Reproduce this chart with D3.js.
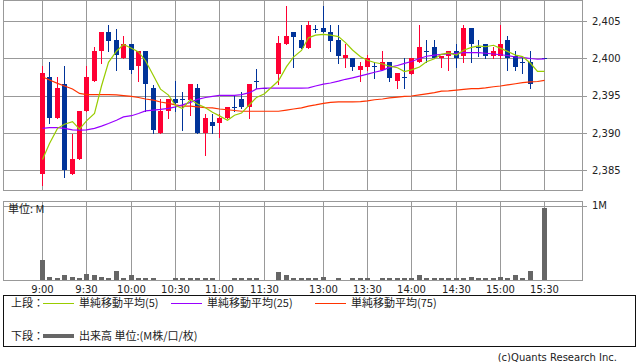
<!DOCTYPE html>
<html>
<head>
<meta charset="utf-8">
<script src="https://cdn.jsdelivr.net/npm/d3@7"></script>
<style>
  body { margin: 0; background: #fff; }
  text { font-family: "DejaVu Sans", sans-serif; fill: #222; }
  .jp { font-family: "Noto Sans CJK JP", sans-serif; }
</style>
</head>
<body>
<div id="chart"></div>
<script>
// 5-minute bars, "" = lunch gap slot
const times = [
  "9:00","9:05","9:10","9:15","9:20","9:25","9:30","9:35","9:40","9:45","9:50","9:55",
  "10:00","10:05","10:10","10:15","10:20","10:25","10:30","10:35","10:40","10:45","10:50","10:55",
  "11:00","11:05","11:10","11:15","11:20","11:25","11:30","",
  "12:30","12:35","12:40","12:45","12:50","12:55",
  "13:00","13:05","13:10","13:15","13:20","13:25","13:30","13:35","13:40","13:45","13:50","13:55",
  "14:00","14:05","14:10","14:15","14:20","14:25","14:30","14:35","14:40","14:45","14:50","14:55",
  "15:00","15:05","15:10","15:15","15:20","15:25","15:30"
];
const opens = [
  2384.5,2397.5,2392,2396.5,2384.5,2386.5,2393,2397,2401,2403.5,2402.5,2400,
  2402,2399,2401,2396,2390,2393,2394.5,2394.5,2394.4,2396,2390,2391.4,
  2391.3,2392,2393.5,2394.5,2393.5,2397,2396,null,
  2397.9,2402,2403.5,2402.5,2401.4,2404,
  2404.1,2403.5,2402.5,2400,2400,2398.4,2398.9,2399,2398.4,2399.5,2397,2397.5,
  2397.9,2399.5,2401,2401.5,2400,2400.4,2401,2400.4,2404.1,2401.5,2402,2400.4,
  2400.4,2402.5,2400.4,2399.5,2399.5,null,2400.1
];
const highs = [
  2399,2399.5,2397.5,2399,2389.8,2393,2399,2401.5,2403.5,2404.5,2404,2403,
  2402,2401,2401,2396.4,2394.5,2394.5,2397,2395.5,2396.5,2396.5,2392.5,2392.5,
  2392.5,2393.5,2395,2395.5,2396.5,2398.6,2396,null,
  2403,2407,2403.5,2404.5,2405,2404.5,
  2407,2404.5,2404.5,2402,2400,2399.5,2400.5,2399.5,2401,2399.5,2398,2400,
  2400,2404.5,2402.5,2402.5,2400.4,2401,2402,2404.5,2404.1,2402.5,2402,2401.5,
  2404.5,2403,2401,2400,2401,null,2400.1
];
const lows = [
  2383,2391.3,2392,2384,2384.5,2386.5,2393,2397,2399.4,2401,2398.4,2400,
  2398,2397,2393,2390,2390,2392,2393,2390.4,2392.4,2390,2387,2390,
  2389.5,2392,2393,2393.4,2392,2396,2396,null,
  2396.5,2402,2398.9,2401.4,2401.4,2403.5,
  2403.5,2401,2399.4,2398.9,2398.4,2397,2398.5,2397.4,2398.4,2397,2396,2396,
  2397.9,2399.5,2399.5,2400,2398.9,2398.4,2398.9,2399.5,2399.5,2400.4,2400,2400,
  2400,2398.4,2398.4,2398,2396,null,2400
];
const closes = [
  2398,2392,2396,2385,2386.5,2393,2397.5,2401,2403.5,2402.4,2400.5,2402,
  2398.5,2401,2396.5,2390.4,2393,2394.5,2394,2394.4,2396.5,2390,2392,2390.9,
  2392,2393.5,2393.4,2393.5,2396.5,2396.9,2396,null,
  2402.1,2403,2402.9,2401.4,2404.5,2403.9,
  2403.5,2402.4,2400.4,2400.5,2398.9,2399,2400,2398.9,2399.5,2397.4,2398,2397.4,
  2400,2401.5,2400.9,2400,2400.4,2401,2400,2404.1,2402,2401.4,2400.4,2401,
  2402,2400,2398.9,2399.4,2396.5,null,2400
];
// volume, unit M
const volumes = [
  0.27,0.053,0.04,0.067,0.053,0.027,0.093,0.067,0.053,0.04,0.133,0.027,
  0.067,0.04,0.04,0.027,0.013,0.013,0.027,0.04,0.04,0.027,0.04,0.04,
  0.013,0.013,0.027,0.027,0.027,0.027,0.013,null,
  0.12,0.067,0.04,0.027,0.027,0.027,
  0.053,0.013,0.027,0.013,0.027,0.027,0.027,0.013,0.027,0.027,0.027,0.027,
  0.04,0.067,0.027,0.027,0.027,0.04,0.027,0.04,0.053,0.027,0.027,0.027,
  0.053,0.04,0.067,0.04,0.133,null,0.973
];
// MA(5) of the first four bars (uses previous day closes)
const ma5Head = [2386.4, 2388.55, 2390.6, 2391.15];
const ma25 = [
  2390.6,2390.7,2390.7,2390.6,2390.4,2390.35,2390.4,2390.6,2390.9,2391.25,2391.7,2392.15,
  2392.3,2392.6,2392.95,2393.05,2393.15,2393.3,2393.5,2393.75,2394.1,2394.5,2394.75,2394.9,
  2395.05,2395.05,2395.05,2395.15,2395.4,2395.9,2396,2396,
  2396,2396,2396,2396,2396.05,2396.3,
  2396.55,2396.7,2396.95,2397.2,2397.4,2397.65,2397.9,2398.15,2398.4,2398.8,2399.05,2399.35,
  2399.6,2400,2400.3,2400.45,2400.55,2400.6,2400.7,2400.8,2400.8,2400.8,2400.7,2400.6,
  2400.5,2400.4,2400.2,2400.15,2400,2399.9,2399.95
];
const ma75 = [
  2397.55,2397.1,2396.65,2396.3,2395.9,2395.3,2395.15,2395.15,2395.15,2395.15,2395.1,2395,
  2394.9,2394.75,2394.55,2394.4,2394.15,2393.95,2393.75,2393.6,2393.6,2393.5,2393.4,2393.35,
  2393.2,2393.1,2393,2392.9,2392.9,2392.9,2392.9,2392.9,
  2392.9,2393.05,2393.2,2393.35,2393.6,2393.75,
  2393.95,2394.1,2394.15,2394.15,2394.15,2394.2,2394.3,2394.45,2394.55,2394.7,2394.8,2394.9,
  2394.95,2395.1,2395.25,2395.4,2395.6,2395.65,2395.75,2395.85,2395.95,2395.95,2396.05,2396.2,
  2396.3,2396.45,2396.6,2396.75,2396.85,2396.9,2397.05
];
const priceTicks = [2385, 2390, 2395, 2400, 2405];
const timeTicks = ["9:00","9:30","10:00","10:30","11:00","11:30","13:00","13:30","14:00","14:30","15:00","15:30"];

const width = 638, height = 362;
const left = 3.5, right = 582.5;
const priceTop = 0.5, priceBottom = 190.5;
const volTop = 201.5, volBottom = 280.5;
const gridColor = "#999";
const upColor = "#ff0033", downColor = "#003399";

const svg = d3.select("#chart").append("svg")
  .attr("width", width).attr("height", height);

const x = d3.scalePoint().domain(times).range([42, 544.4]);
const y = d3.scaleLinear().domain([2382.24, 2407.8]).range([priceBottom, priceTop]);
const yVol = d3.scaleLinear().domain([0, 1]).range([280.5, 205.5]);
const cx = t => Math.round(x(t));

// moving average 5 from closes (gap slot skipped, no-trade bar keeps last close)
const maCloses = [];
let last = null;
times.forEach((t, i) => {
  if (t === "") return;
  if (closes[i] != null) last = closes[i];
  maCloses.push({i: i, c: last});
});
const ma5 = times.map(() => null);
maCloses.forEach((d, k) => {
  if (k < ma5Head.length) ma5[d.i] = ma5Head[k];
  else ma5[d.i] = d3.mean(maCloses.slice(k - 4, k + 1), e => e.c);
});

// grid + axes
svg.append("g")
  .attr("transform", "translate(587,0)")
  .call(d3.axisRight(y).tickValues(priceTicks).tickSize(-(587 - left)).tickPadding(5).tickFormat(d3.format(",")))
  .call(g => g.select(".domain").remove())
  .call(g => g.selectAll("line").attr("stroke", gridColor).attr("shape-rendering", "crispEdges"))
  .call(g => g.selectAll("text").style("font-size", "10px").attr("fill", "#222"));

svg.append("g")
  .attr("transform", "translate(587,0)")
  .call(d3.axisRight(yVol).tickValues([1]).tickSize(-(587 - left)).tickPadding(5).tickFormat(d => d + "M"))
  .call(g => g.select(".domain").remove())
  .call(g => g.selectAll("line").attr("stroke", gridColor).attr("shape-rendering", "crispEdges"))
  .call(g => g.selectAll("text").style("font-size", "10px").attr("fill", "#222"));

const xr = d3.scalePoint().domain(times).range([42, 544.4]);
svg.append("g")
  .attr("transform", `translate(0,${priceBottom})`)
  .call(d3.axisBottom(xr).tickValues(timeTicks).tickSize(-(priceBottom - priceTop)).tickFormat(""))
  .call(g => g.select(".domain").remove())
  .call(g => g.selectAll(".tick").attr("transform", d => `translate(${cx(d) + 0.5},0)`))
  .call(g => g.selectAll("line").attr("stroke", gridColor).attr("shape-rendering", "crispEdges"));

svg.append("g")
  .attr("transform", `translate(0,${volBottom})`)
  .call(d3.axisBottom(xr).tickValues(timeTicks).tickSize(-(volBottom - volTop)).tickPadding(5))
  .call(g => g.select(".domain").remove())
  .call(g => g.selectAll(".tick").attr("transform", d => `translate(${cx(d) + 0.5},0)`))
  .call(g => g.selectAll("line").attr("stroke", gridColor).attr("shape-rendering", "crispEdges"))
  .call(g => g.selectAll("text").style("font-size", "10px").attr("fill", "#222"));

// panel borders
[[priceTop, priceBottom], [volTop, volBottom]].forEach(([t, b]) => {
  svg.append("rect")
    .attr("x", left).attr("y", t).attr("width", right - left).attr("height", b - t)
    .attr("fill", "none").attr("stroke", gridColor).attr("shape-rendering", "crispEdges");
});

// candles
const bars = times.map((t, i) => ({t, o: opens[i], h: highs[i], l: lows[i], c: closes[i]}))
  .filter(d => d.o != null);
const candles = svg.append("g").attr("shape-rendering", "crispEdges");
candles.selectAll(".wick").data(bars).enter().append("line")
  .attr("x1", d => cx(d.t) + 0.5).attr("x2", d => cx(d.t) + 0.5)
  .attr("y1", d => Math.round(y(d.h))).attr("y2", d => Math.round(y(d.l)) + 1)
  .attr("stroke", d => d.c > d.o ? upColor : downColor);
candles.selectAll(".body").data(bars).enter().append("rect")
  .attr("x", d => cx(d.t) - 2).attr("width", 5)
  .attr("y", d => Math.round(y(Math.max(d.o, d.c))))
  .attr("height", d => Math.max(1, Math.round(y(Math.min(d.o, d.c))) - Math.round(y(Math.max(d.o, d.c)))))
  .attr("fill", d => d.c > d.o ? upColor : downColor);

// moving averages
const maLine = d3.line()
  .defined(d => d.v != null)
  .x(d => cx(d.t) + 0.5)
  .y(d => y(d.v));
[[ma75, "#ff3300"], [ma25, "#9900ff"], [ma5, "#99cc00"]].forEach(([vals, col]) => {
  svg.append("path")
    .datum(times.map((t, i) => ({t, v: vals[i]})).filter(d => d.v != null))
    .attr("d", maLine)
    .attr("fill", "none").attr("stroke", col).attr("stroke-width", 1.2);
});

// volume
svg.append("g").attr("shape-rendering", "crispEdges")
  .selectAll("rect")
  .data(times.map((t, i) => ({t, v: volumes[i]})).filter(d => d.v != null))
  .enter().append("rect")
  .attr("x", d => cx(d.t) - 2).attr("width", 5)
  .attr("y", d => Math.round(yVol(d.v)))
  .attr("height", d => 280 - Math.round(yVol(d.v)))
  .attr("fill", "#666");

svg.append("text").attr("class", "jp")
  .attr("x", 8).attr("y", 213).style("font-size", "11px")
  .text("単位: M");

// legend box
svg.append("rect")
  .attr("x", 3.5).attr("y", 295.5).attr("width", 632).attr("height", 51)
  .attr("fill", "none").attr("stroke", "#111").attr("shape-rendering", "crispEdges");

const legendTop = [
  {label: "単純移動平均(5)", color: "#99cc00", x0: 43, tx: 79},
  {label: "単純移動平均(25)", color: "#9900ff", x0: 171, tx: 207},
  {label: "単純移動平均(75)", color: "#ff3300", x0: 315, tx: 351}
];
svg.append("text").attr("class", "jp").attr("x", 11).attr("y", 307).style("font-size", "11px").text("上段：");
legendTop.forEach(d => {
  svg.append("line").attr("x1", d.x0).attr("x2", d.x0 + 31).attr("y1", 303.5).attr("y2", 303.5)
    .attr("stroke", d.color).attr("stroke-width", 1);
  svg.append("text").attr("class", "jp").attr("x", d.tx).attr("y", 307).style("font-size", "11px").text(d.label);
});
svg.append("text").attr("class", "jp").attr("x", 11).attr("y", 340).style("font-size", "11px").text("下段：");
svg.append("line").attr("x1", 43).attr("x2", 74).attr("y1", 336).attr("y2", 336)
  .attr("stroke", "#666").attr("stroke-width", 4);
svg.append("text").attr("class", "jp").attr("x", 79).attr("y", 340).style("font-size", "11px").text("出来高 単位:(M株/口/枚)");

svg.append("text")
  .attr("x", 617).attr("y", 361).attr("text-anchor", "end")
  .style("font-size", "10px").attr("fill", "#333")
  .text("(c)Quants Research Inc.");
</script>
</body>
</html>
